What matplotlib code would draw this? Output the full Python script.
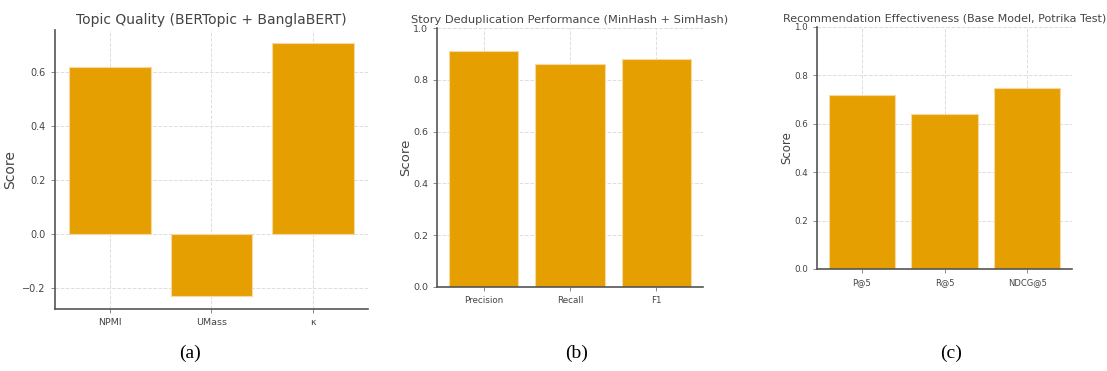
import matplotlib
matplotlib.use("Agg")
import matplotlib.pyplot as plt

BAR_COLOR = "#E69F00"
TEXT_COLOR = "#444444"

topic_labels = ["NPMI", "UMass", "κ"]
topic_scores = [0.62, -0.23, 0.71]

dedup_labels = ["Precision", "Recall", "F1"]
dedup_scores = [0.91, 0.86, 0.88]

rec_labels = ["P@5", "R@5", "NDCG@5"]
rec_scores = [0.72, 0.64, 0.75]

W, H = 1107, 371


def px_axes(fig, left, top, right, bottom):
    return fig.add_axes([left / W, (H - bottom) / H, (right - left) / W, (bottom - top) / H])


def style_panel(ax, title, title_size, xtick_size, ytick_size, label_size, label_x, pad):
    ax.set_title(title, fontsize=title_size, color=TEXT_COLOR, pad=pad)
    ax.set_ylabel("Score", fontsize=label_size, color=TEXT_COLOR)
    ax.yaxis.set_label_coords(label_x, 0.5)
    ax.grid(True, linestyle="--", color="#dddddd", linewidth=0.7)
    ax.set_axisbelow(True)
    for side in ("top", "right"):
        ax.spines[side].set_visible(False)
    for side in ("left", "bottom"):
        ax.spines[side].set_color("#555555")
        ax.spines[side].set_linewidth(1.2)
    ax.tick_params(colors="#777777", labelcolor=TEXT_COLOR, length=3, width=0.6)
    ax.tick_params(axis="x", labelsize=xtick_size)
    ax.tick_params(axis="y", labelsize=ytick_size)


fig = plt.figure(figsize=(W / 100, H / 100), dpi=100)

ax1 = px_axes(fig, 55, 30, 368, 309)
ax1.bar(topic_labels, topic_scores, color=BAR_COLOR, edgecolor="#f5d9a0", linewidth=0.8)
ax1.set_yticks([-0.2, 0.0, 0.2, 0.4, 0.6])
style_panel(ax1, "Topic Quality (BERTopic + BanglaBERT)", 10, 6.8, 7, 10, (17 - 55) / 313, 4.3)

ax2 = px_axes(fig, 437, 28, 703, 287)
ax2.bar(dedup_labels, dedup_scores, color=BAR_COLOR, edgecolor="#f5d9a0", linewidth=0.8)
ax2.set_ylim(0, 1.0)
ax2.set_yticks([0.0, 0.2, 0.4, 0.6, 0.8, 1.0])
style_panel(ax2, "Story Deduplication Performance (MinHash + SimHash)", 8.2, 6.3, 6.8, 9.5,
            (412 - 437) / 266, 3.6)

ax3 = px_axes(fig, 817, 27, 1072, 269)
ax3.bar(rec_labels, rec_scores, color=BAR_COLOR, edgecolor="#f5d9a0", linewidth=0.8)
ax3.set_ylim(0, 1.0)
ax3.set_yticks([0.0, 0.2, 0.4, 0.6, 0.8, 1.0])
style_panel(ax3, "Recommendation Effectiveness (Base Model, Potrika Test)", 8.0, 6.0, 6.3, 8.5,
            (793 - 817) / 255, 4.3)

for caption, x in (("(a)", 190), ("(b)", 577), ("(c)", 951)):
    fig.text(x / W, 1 - 353 / H, caption, ha="center", va="center",
             fontsize=14, family="Liberation Serif", color="black")

fig.savefig("out.png", dpi=100)
